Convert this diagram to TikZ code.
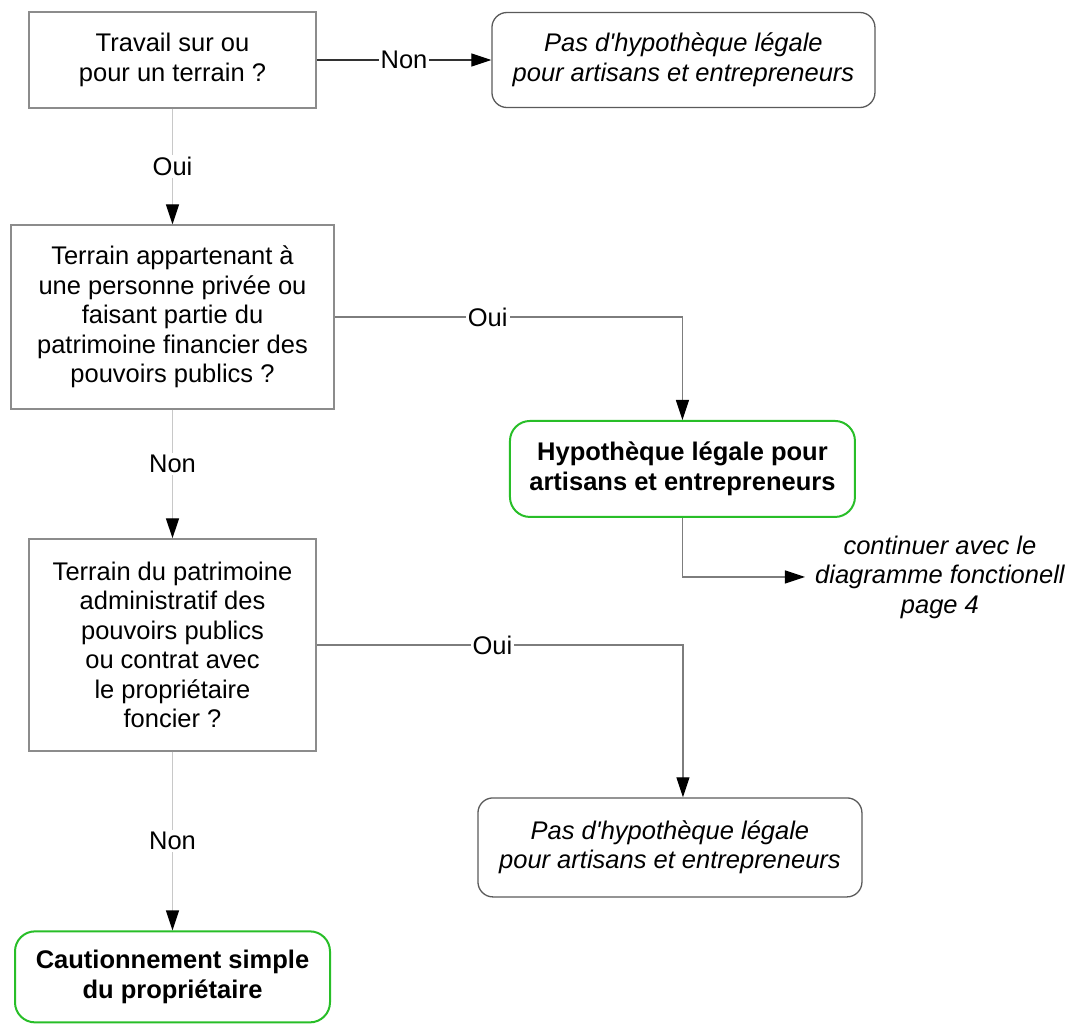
\documentclass[tikz,border=0pt]{standalone}
\usepackage{fontspec}
\setmainfont{Liberation Sans}
\usetikzlibrary{arrows.meta}
\definecolor{boxgray}{RGB}{140,140,140}
\definecolor{nhgray}{RGB}{90,90,90}
\definecolor{darkline}{RGB}{50,50,50}
\definecolor{midline}{RGB}{125,125,125}
\definecolor{lightline}{RGB}{200,200,200}
\definecolor{okgreen}{RGB}{40,190,40}
\newcommand{\diagfont}{\fontsize{25.5}{29.5}\selectfont}
\begin{document}
\begin{tikzpicture}[x=1pt,y=1pt]
    \tikzset{every node/.style={font=\diagfont},
    q/.style={draw=boxgray,line width=1.3pt,align=center},
    nh/.style={draw=nhgray,line width=1.3pt,rounded corners=15pt,align=center,font=\diagfont\itshape},
    ok/.style={draw=okgreen,line width=2pt,rounded corners=20pt,align=center,font=\diagfont\bfseries},
    lbl/.style={fill=white,text=black,inner sep=2pt},
    >={Triangle[length=20pt,width=13pt,color=black]}}
    \useasboundingbox (0,0) rectangle (1068,-1023);
    \node[q,minimum width=287pt,minimum height=96pt] (q1) at (172.5,-60) {Travail sur ou\\pour un terrain ?};%first question
    \node[nh,minimum width=383pt,minimum height=95pt] (nh1) [right of=q1,xshift=482.5pt] {Pas d\textquotesingle hypothèque légale\\pour artisans et entrepreneurs};
    \node[q,minimum width=323pt,minimum height=184pt] (q2) [below of=q1,yshift=-228.5pt] {Terrain appartenant à\\une personne privée ou\\faisant partie du\\patrimoine financier des\\pouvoirs publics ?};
    \node[ok,minimum width=345pt,minimum height=96pt] (h1) [right of=q2,xshift=481.5pt,yshift=-152pt] {Hypothèque légale pour\\artisans et entrepreneurs};
    \node[q,minimum width=287pt,minimum height=212pt] (q3) [below of=q2,yshift=-299.5pt] {Terrain du patrimoine\\administratif des\\pouvoirs publics\\ou contrat avec\\le propriétaire\\foncier ?};
    \node[nh,minimum width=384pt,minimum height=99pt] (nh2) [right of=q3,xshift=469pt,yshift=-202.5pt] {Pas d\textquotesingle hypothèque légale\\pour artisans et entrepreneurs};
    \node[ok,minimum width=315pt,minimum height=91pt] (c1) [below of=q3,yshift=-303.5pt] {Cautionnement simple\\du propriétaire};
    \node[align=center,inner sep=10pt,font=\diagfont\itshape] (cont) [right of=h1,xshift=229pt,yshift=-108pt] {continuer avec le\\diagramme fonctionell\\page 4};%next page

    \draw[->,darkline,line width=1.3pt] (q1) -- node[lbl] {Non} (nh1);
    \draw[->,lightline,line width=1.3pt] (q1) -- node[lbl] {Oui} (q2);
    \draw[->,midline,line width=1.3pt] (q2) -| node[lbl,pos=0.22] {Oui} (h1);
    \draw[->,midline,line width=1.3pt] (h1) |- (cont);
    \draw[->,lightline,line width=1.3pt] (q2) -- node[lbl,pos=0.42] {Non} (q3);
    \draw[->,midline,line width=1.3pt] (q3) -| node[lbl,pos=0.24] {Oui} ([xshift=13pt]nh2.north);
    \draw[->,lightline,line width=1.3pt] (q3) -- node[lbl] {Non} (c1);
\end{tikzpicture}
\end{document}
